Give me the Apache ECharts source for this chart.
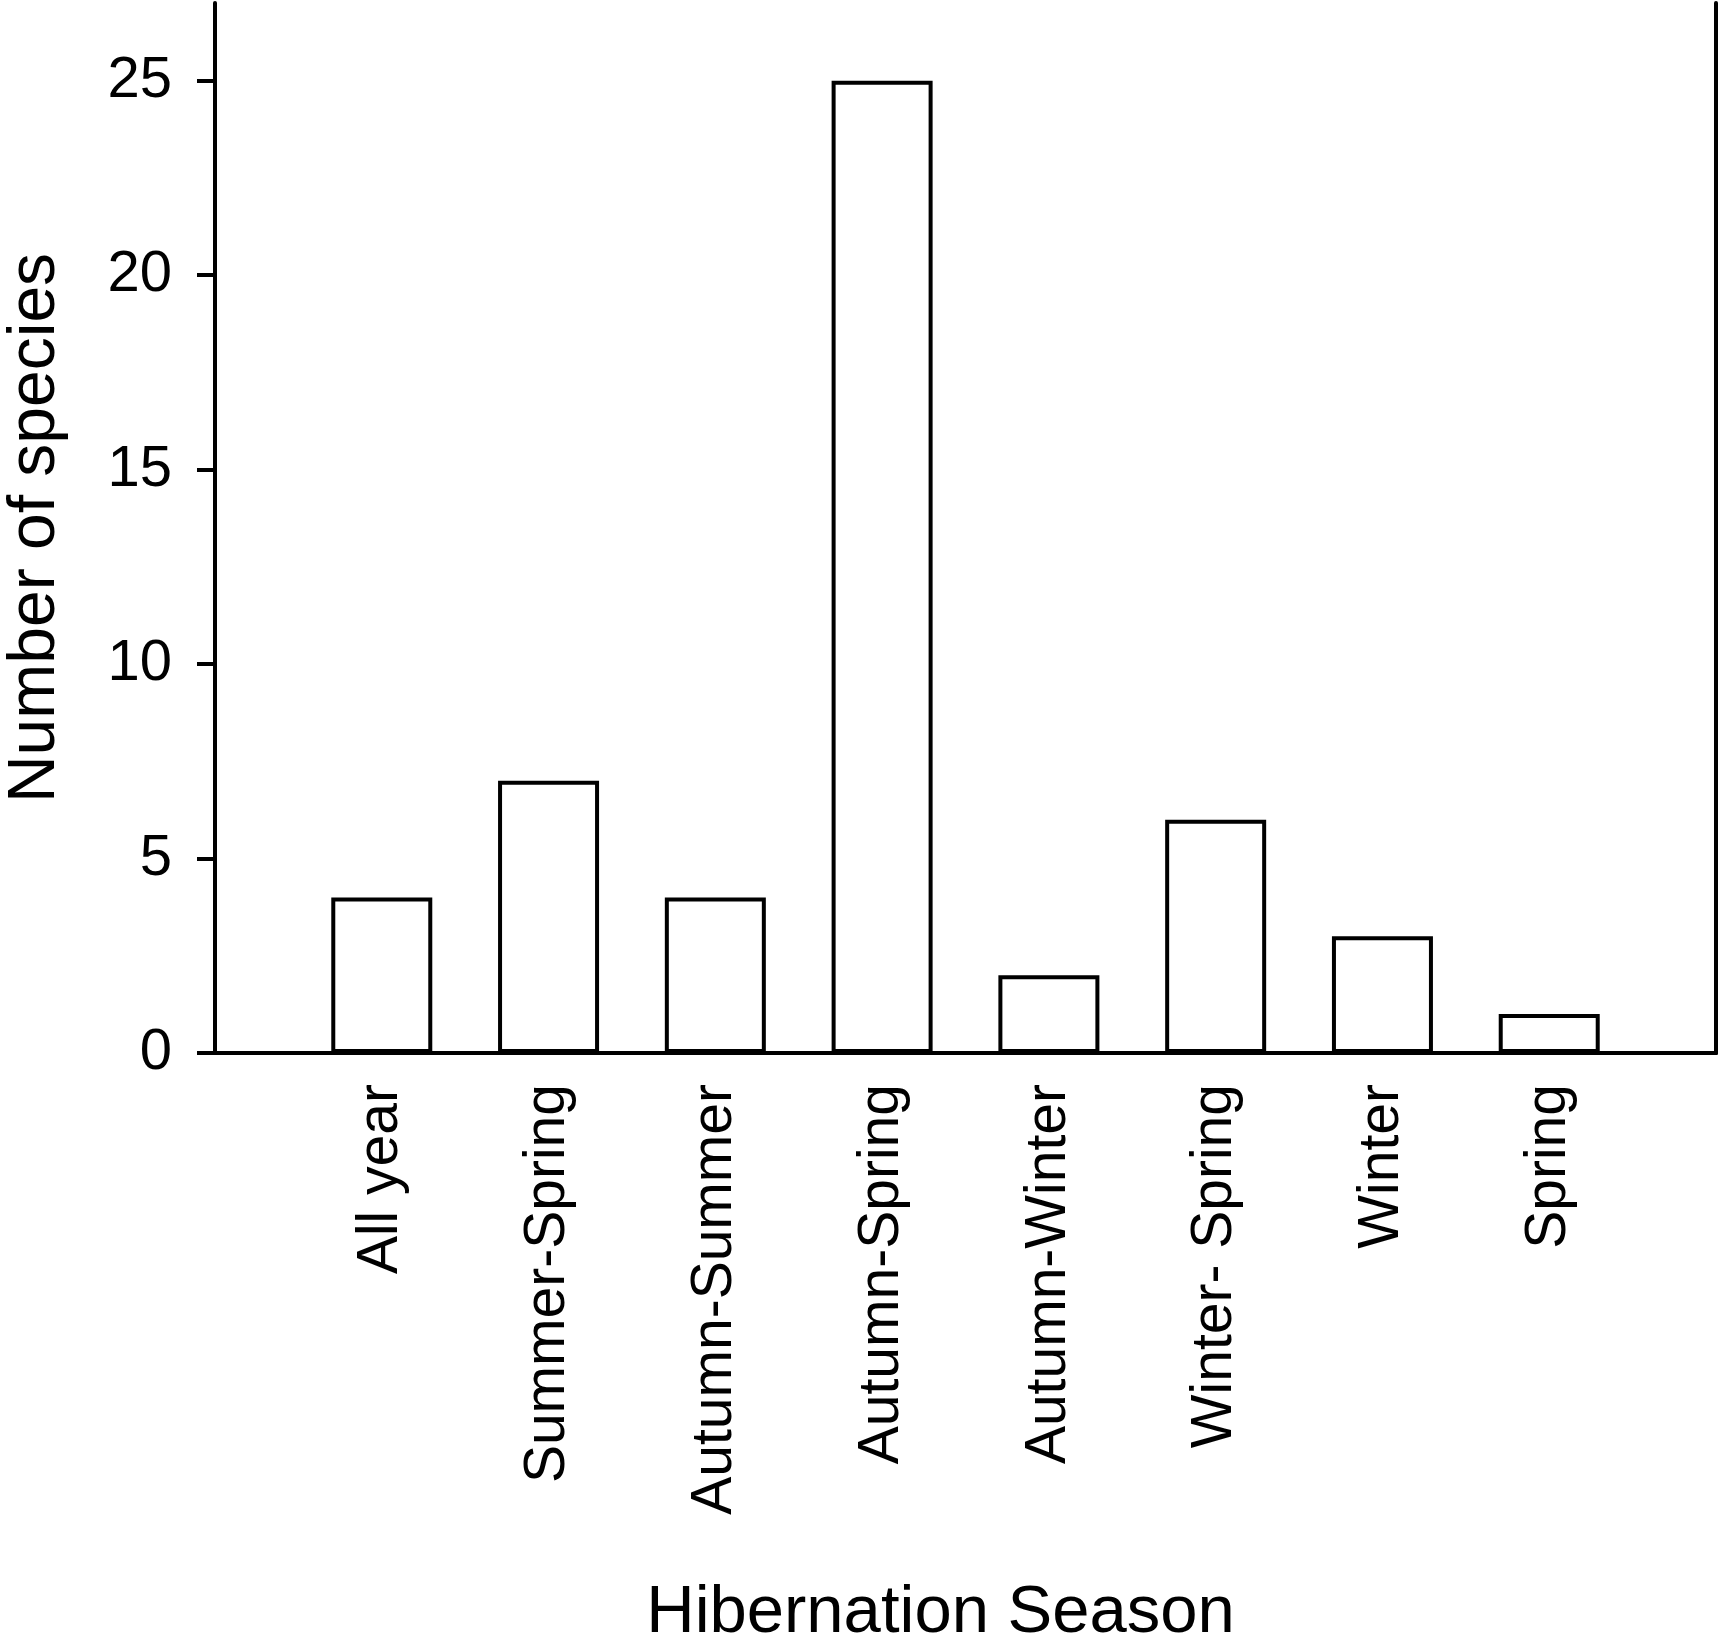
<!DOCTYPE html>
<html lang="en">
<head>
    <meta charset="UTF-8">
    <title>Hibernation Season</title>
    <style>
        body {
            margin: 0px;
            padding: 0px;
            background: #ffffff;
        }

        #chart {
            width: 1723px;
            height: 1635px;
        }
    </style>
</head>
<body>
    <div id="chart"></div>
    <script src="https://cdn.jsdelivr.net/npm/echarts@6/dist/echarts.min.js"></script>
    <script>
        // data
        var seasons = ['All year', 'Summer-Spring', 'Autumn-Summer', 'Autumn-Spring',
            'Autumn-Winter', 'Winter- Spring', 'Winter', 'Spring'];
        var speciesCount = [4, 7, 4, 25, 2, 6, 3, 1];
        var yTicks = [0, 5, 10, 15, 20, 25];

        // an empty slot on each side, like the original layout
        var xData = [''].concat(seasons, ['']);
        var barData = [null].concat(speciesCount, [null]);

        var font = '"Liberation Sans", Arial, sans-serif';
        var lineW = 4;

        var chart = echarts.init(document.getElementById('chart'));

        var option = {
            animation: false,
            grid: {
                left: 215,
                right: 7,
                top: 3,
                bottom: 582,
                outerBoundsMode: 'none' // keep the grid where it is put
            },
            xAxis: [
                {
                    type: 'category',
                    data: xData,
                    boundaryGap: false,
                    name: 'Hibernation Season',
                    nameLocation: 'middle',
                    nameGap: 527,
                    nameTextStyle: {
                        fontFamily: font,
                        fontSize: 67,
                        color: '#000',
                        padding: [0, 50, 0, 0]
                    },
                    axisLine: { lineStyle: { color: '#000', width: lineW } },
                    axisTick: { show: false },
                    axisLabel: {
                        interval: 0,
                        rotate: 90,
                        margin: 31,
                        fontFamily: font,
                        fontSize: 57,
                        color: '#000'
                    },
                    splitLine: { show: false }
                },
                {
                    // top edge of the frame
                    type: 'category',
                    data: xData,
                    boundaryGap: false,
                    position: 'top',
                    axisLine: { lineStyle: { color: '#000', width: lineW } },
                    axisTick: { show: false },
                    axisLabel: { show: false },
                    splitLine: { show: false }
                }
            ],
            yAxis: [
                {
                    type: 'value',
                    min: 0,
                    max: 27,
                    interval: 5,
                    name: 'Number of species',
                    nameLocation: 'middle',
                    nameGap: 146,
                    nameTextStyle: {
                        fontFamily: font,
                        fontSize: 66,
                        color: '#000'
                    },
                    axisLine: { show: true, lineStyle: { color: '#000', width: lineW } },
                    axisTick: {
                        show: true,
                        length: 18,
                        customValues: yTicks,
                        lineStyle: { color: '#000', width: lineW }
                    },
                    axisLabel: {
                        margin: 43,
                        customValues: yTicks,
                        fontFamily: font,
                        fontSize: 58,
                        color: '#000'
                    },
                    splitLine: { show: false }
                },
                {
                    // right edge of the frame
                    type: 'value',
                    min: 0,
                    max: 27,
                    position: 'right',
                    axisLine: { show: true, lineStyle: { color: '#000', width: lineW } },
                    axisTick: { show: false },
                    axisLabel: { show: false },
                    splitLine: { show: false }
                }
            ],
            series: [
                {
                    type: 'bar',
                    data: barData,
                    barWidth: 101,
                    itemStyle: {
                        color: '#ffffff',
                        borderColor: '#000',
                        borderWidth: lineW
                    }
                }
            ]
        };

        chart.setOption(option);
    </script>
</body>
</html>
